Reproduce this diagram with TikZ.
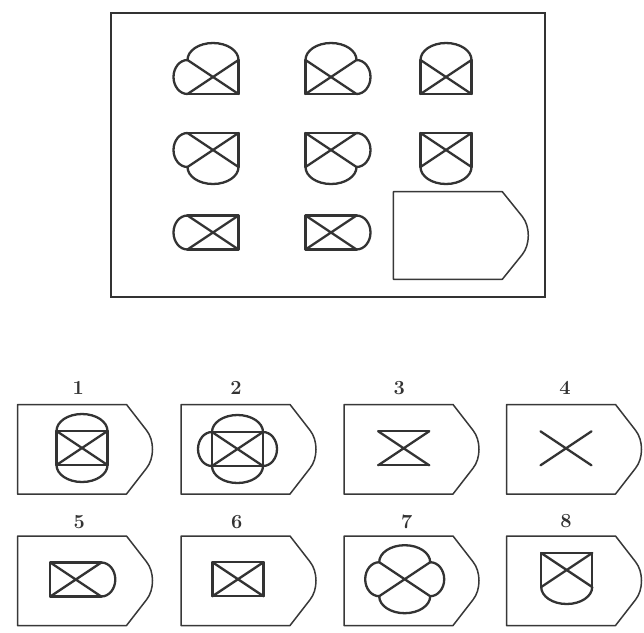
\documentclass[tikz,border=0pt]{standalone}
\usepackage{fontspec}
\usepackage{tikz}
\begin{document}
\begin{tikzpicture}[x=1pt,y=-1pt,
  gl/.style={line width=2.3pt,draw=black!80,line cap=round,line join=round},
  cardline/.style={line width=1.5pt,draw=black!78,line join=round},
  framel/.style={line width=1.6pt,draw=black!80},
  numlabel/.style={font=\bfseries\fontsize{20}{22}\selectfont,text=black!80,inner sep=0pt}]
\useasboundingbox[fill=white] (0,0) rectangle (644,632);
% dimensions of the glyph
\def\gw{25.5}\def\gh{17}
\def\gwd{25.5pt}\def\ghd{17pt}\def\gbd{17pt}\def\gsd{14pt}
% sides: l = line, a = arc, b = both, n = none
\newcommand\gT[3]{%
  \ifx l#3\draw[gl] ({#1-\gw},{#2-\gh}) -- ({#1+\gw},{#2-\gh});\fi
  \ifx b#3\draw[gl] ({#1-\gw},{#2-\gh}) -- ({#1+\gw},{#2-\gh});\fi
  \ifx a#3\draw[gl] ({#1-\gw},{#2-\gh}) arc[start angle=180,end angle=0,x radius=\gwd,y radius=\gbd];\fi
  \ifx b#3\draw[gl] ({#1-\gw},{#2-\gh}) arc[start angle=180,end angle=0,x radius=\gwd,y radius=\gbd];\fi}
\newcommand\gB[3]{%
  \ifx l#3\draw[gl] ({#1-\gw},{#2+\gh}) -- ({#1+\gw},{#2+\gh});\fi
  \ifx b#3\draw[gl] ({#1-\gw},{#2+\gh}) -- ({#1+\gw},{#2+\gh});\fi
  \ifx a#3\draw[gl] ({#1-\gw},{#2+\gh}) arc[start angle=180,end angle=360,x radius=\gwd,y radius=\gbd];\fi
  \ifx b#3\draw[gl] ({#1-\gw},{#2+\gh}) arc[start angle=180,end angle=360,x radius=\gwd,y radius=\gbd];\fi}
\newcommand\gL[3]{%
  \ifx l#3\draw[gl] ({#1-\gw},{#2-\gh}) -- ({#1-\gw},{#2+\gh});\fi
  \ifx b#3\draw[gl] ({#1-\gw},{#2-\gh}) -- ({#1-\gw},{#2+\gh});\fi
  \ifx a#3\draw[gl] ({#1-\gw},{#2-\gh}) arc[start angle=90,end angle=270,x radius=\gsd,y radius=\ghd];\fi
  \ifx b#3\draw[gl] ({#1-\gw},{#2-\gh}) arc[start angle=90,end angle=270,x radius=\gsd,y radius=\ghd];\fi}
\newcommand\gR[3]{%
  \ifx l#3\draw[gl] ({#1+\gw},{#2-\gh}) -- ({#1+\gw},{#2+\gh});\fi
  \ifx b#3\draw[gl] ({#1+\gw},{#2-\gh}) -- ({#1+\gw},{#2+\gh});\fi
  \ifx a#3\draw[gl] ({#1+\gw},{#2-\gh}) arc[start angle=90,end angle=-90,x radius=\gsd,y radius=\ghd];\fi
  \ifx b#3\draw[gl] ({#1+\gw},{#2-\gh}) arc[start angle=90,end angle=-90,x radius=\gsd,y radius=\ghd];\fi}
\newcommand\gX[2]{%
  \draw[gl] ({#1-\gw},{#2-\gh}) -- ({#1+\gw},{#2+\gh})
            ({#1-\gw},{#2+\gh}) -- ({#1+\gw},{#2-\gh});}
% \glyph{cx}{cy}{top}{right}{bottom}{left}
\newcommand\glyph[6]{\gT{#1}{#2}{#3}\gR{#1}{#2}{#4}\gB{#1}{#2}{#5}\gL{#1}{#2}{#6}\gX{#1}{#2}}
% \card{x0}{y0}{h}
\newcommand\card[3]{%
  \draw[cardline] (#1,#2) -- ({#1+109},#2) -- ({#1+129},{#2+#3/2-19})
    .. controls ({#1+137},{#2+#3/2-9}) and ({#1+137},{#2+#3/2+9}) .. ({#1+129},{#2+#3/2+19})
    -- ({#1+109},{#2+#3}) -- (#1,{#2+#3}) -- cycle;}

% main frame
\draw[framel] (111,13) rectangle (545,297);
% matrix
\glyph{213}{77}{a}{l}{l}{a}
\glyph{331}{77}{a}{a}{l}{l}
\glyph{446}{77}{a}{l}{l}{l}
\glyph{213}{150}{l}{l}{a}{a}
\glyph{331}{150}{l}{a}{a}{l}
\glyph{446}{150}{l}{l}{a}{l}
\glyph{213}{232.5}{l}{l}{l}{a}
\glyph{331}{232.5}{l}{a}{l}{l}
\card{393.3}{191.7}{87.6}

% answer cards
\card{17.5}{404.5}{89.5}
\card{181}{404.5}{89.5}
\card{344}{404.5}{89.5}
\card{506.5}{404.5}{89.5}
\card{17.5}{536}{89.5}
\card{181}{536}{89.5}
\card{344}{536}{89.5}
\card{506.5}{536}{89.5}

\node[numlabel] (n1) at (78.3,388.3) {1};
\node[numlabel] (n2) at (236,388.3) {2};
\node[numlabel] (n3) at (399.3,388.3) {3};
\node[numlabel] (n4) at (565,388.3) {4};
\node[numlabel] (n5) at (79.3,521.7) {5};
\node[numlabel] (n6) at (236.7,521.7) {6};
\node[numlabel] (n7) at (406.7,521.7) {7};
\node[numlabel] (n8) at (566,521) {8};

\glyph{82}{448}{b}{l}{b}{l}
\glyph{237.5}{449}{b}{b}{b}{b}
\glyph{403.7}{448.3}{l}{n}{l}{n}
\glyph{566}{448.3}{n}{n}{n}{n}
\glyph{75.8}{579.5}{l}{a}{l}{l}
\glyph{238}{579.2}{l}{l}{l}{l}
\glyph{404.7}{579.2}{a}{a}{a}{a}
\glyph{566.7}{570}{l}{l}{a}{l}
\end{tikzpicture}
\end{document}
